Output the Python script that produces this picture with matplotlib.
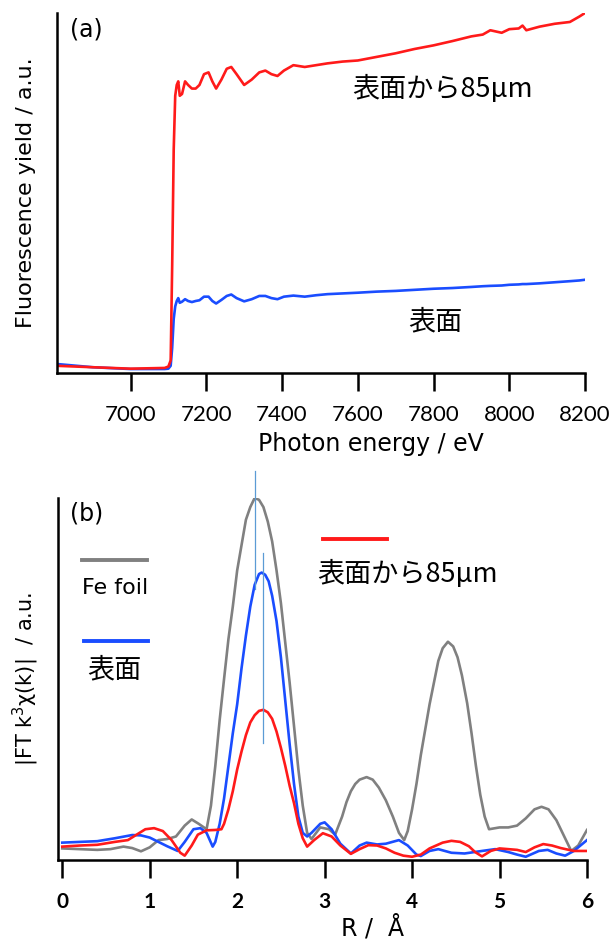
import matplotlib
matplotlib.use('Agg')
import matplotlib.pyplot as plt

plt.rcParams['font.family'] = ['DejaVu Sans', 'Noto Sans CJK JP']
JP = ['Noto Sans CJK JP', 'DejaVu Sans']
TICKFONT = ['Lato', 'DejaVu Sans']

# (a) XANES, fluorescence yield
energy = [6805, 6900, 7000, 7090, 7100, 7106, 7110, 7114, 7118, 7122,
          7126, 7130, 7136, 7144, 7152, 7162, 7172, 7182, 7194, 7206,
          7216, 7226, 7240, 7254, 7266, 7280, 7300, 7320, 7340, 7356,
          7372, 7388, 7405, 7430, 7460, 7490, 7520, 7560, 7600, 7650,
          7700, 7750, 7800, 7850, 7900, 7930, 7950, 7980, 8000, 8025,
          8035, 8045, 8080, 8120, 8160, 8185, 8200]
fy_85um = [0.020, 0.016, 0.012, 0.014, 0.018, 0.035, 0.30, 0.62, 0.77, 0.80,
           0.81, 0.77, 0.775, 0.81, 0.80, 0.79, 0.79, 0.80, 0.83, 0.835,
           0.81, 0.79, 0.815, 0.845, 0.85, 0.83, 0.80, 0.815, 0.835, 0.84,
           0.83, 0.825, 0.84, 0.855, 0.85, 0.855, 0.86, 0.865, 0.868, 0.878,
           0.888, 0.90, 0.91, 0.922, 0.935, 0.94, 0.952, 0.945, 0.955, 0.957,
           0.965, 0.952, 0.962, 0.97, 0.975, 0.99, 1.0]
fy_surface = [0.025, 0.016, 0.011, 0.011, 0.012, 0.02, 0.07, 0.15, 0.185, 0.200,
              0.208, 0.195, 0.198, 0.205, 0.200, 0.197, 0.200, 0.202, 0.212, 0.212,
              0.200, 0.193, 0.203, 0.214, 0.218, 0.208, 0.199, 0.205, 0.214, 0.214,
              0.208, 0.205, 0.212, 0.215, 0.212, 0.216, 0.219, 0.221, 0.223, 0.226,
              0.228, 0.231, 0.234, 0.236, 0.239, 0.241, 0.242, 0.243, 0.245, 0.246,
              0.247, 0.247, 0.249, 0.252, 0.255, 0.257, 0.259]
energy_ticks = [7000, 7200, 7400, 7600, 7800, 8000, 8200]

# (b) Fourier transforms
r_fe = [0.0, 0.2, 0.4, 0.55, 0.7, 0.8, 0.9, 1.0, 1.1, 1.2, 1.3, 1.4, 1.48, 1.56,
        1.65, 1.70, 1.75, 1.80, 1.85, 1.90, 1.95, 2.00, 2.05, 2.10, 2.15, 2.20,
        2.25, 2.30, 2.35, 2.40, 2.45, 2.50, 2.55, 2.60, 2.65, 2.70, 2.75, 2.80,
        2.85, 2.95, 3.05, 3.12, 3.2, 3.25, 3.3, 3.35, 3.4, 3.48, 3.55, 3.62,
        3.7, 3.78, 3.85, 3.91, 3.95, 4.0, 4.05, 4.1, 4.15, 4.2, 4.25, 4.3, 4.35,
        4.41, 4.47, 4.52, 4.57, 4.63, 4.68, 4.73, 4.78, 4.83, 4.88, 5.0, 5.1,
        5.2, 5.3, 5.4, 5.48, 5.56, 5.65, 5.75, 5.82, 5.9, 6.0]
ft_fe = [0.032, 0.030, 0.028, 0.030, 0.037, 0.033, 0.024, 0.035, 0.055, 0.058,
         0.065, 0.095, 0.112, 0.100, 0.085, 0.15, 0.26, 0.387, 0.50, 0.61, 0.70,
         0.80, 0.87, 0.94, 0.975, 1.0, 0.995, 0.975, 0.935, 0.88, 0.80, 0.71,
         0.60, 0.49, 0.37, 0.25, 0.15, 0.075, 0.058, 0.090, 0.085, 0.070, 0.12,
         0.16, 0.19, 0.21, 0.222, 0.229, 0.222, 0.20, 0.165, 0.12, 0.075, 0.055,
         0.08, 0.14, 0.21, 0.29, 0.36, 0.43, 0.49, 0.55, 0.585, 0.603, 0.59,
         0.56, 0.51, 0.433, 0.35, 0.26, 0.18, 0.12, 0.085, 0.090, 0.090, 0.095,
         0.115, 0.14, 0.147, 0.140, 0.11, 0.06, 0.025, 0.040, 0.083]

r_surf = [0.0, 0.2, 0.4, 0.6, 0.8, 0.9, 1.0, 1.1, 1.2, 1.32, 1.4, 1.5, 1.58, 1.65,
          1.72, 1.75, 1.8, 1.85, 1.9, 1.95, 2.0, 2.05, 2.1, 2.15, 2.2, 2.25, 2.28,
          2.32, 2.36, 2.4, 2.45, 2.5, 2.55, 2.6, 2.65, 2.7, 2.75, 2.8, 2.85, 2.95,
          3.0, 3.08, 3.18, 3.3, 3.4, 3.48, 3.6, 3.7, 3.85, 3.95, 4.05, 4.1, 4.2,
          4.3, 4.45, 4.6, 4.8, 4.95, 5.1, 5.2, 5.3, 5.45, 5.55, 5.65, 5.75, 5.85,
          6.0]
ft_surf = [0.048, 0.050, 0.052, 0.060, 0.069, 0.068, 0.062, 0.050, 0.038, 0.025,
           0.050, 0.085, 0.088, 0.075, 0.037, 0.05, 0.10, 0.17, 0.26, 0.35, 0.43,
           0.53, 0.62, 0.70, 0.76, 0.79, 0.794, 0.788, 0.77, 0.73, 0.66, 0.56,
           0.44, 0.32, 0.21, 0.12, 0.075, 0.065, 0.075, 0.10, 0.104, 0.085, 0.045,
           0.018, 0.040, 0.048, 0.043, 0.045, 0.055, 0.040, 0.015, 0.011, 0.025,
           0.030, 0.020, 0.018, 0.025, 0.030, 0.022, 0.015, 0.009, 0.025, 0.028,
           0.018, 0.012, 0.025, 0.055]

r_85 = [0.0, 0.2, 0.4, 0.6, 0.75, 0.85, 0.95, 1.05, 1.15, 1.25, 1.35, 1.4, 1.48,
        1.55, 1.65, 1.75, 1.82, 1.85, 1.9, 1.95, 2.0, 2.05, 2.1, 2.15, 2.2, 2.25,
        2.3, 2.35, 2.4, 2.45, 2.5, 2.55, 2.6, 2.65, 2.7, 2.75, 2.8, 2.88, 2.98,
        3.08, 3.18, 3.3, 3.4, 3.5, 3.6, 3.7, 3.8, 3.9, 4.0, 4.1, 4.2, 4.35, 4.45,
        4.55, 4.65, 4.72, 4.8, 4.9, 5.0, 5.1, 5.2, 5.3, 5.4, 5.5, 5.6, 5.7, 5.85,
        6.0]
ft_85 = [0.037, 0.040, 0.042, 0.050, 0.055, 0.070, 0.085, 0.088, 0.080, 0.055,
         0.020, 0.012, 0.040, 0.070, 0.082, 0.083, 0.085, 0.10, 0.14, 0.19, 0.25,
         0.30, 0.345, 0.38, 0.40, 0.412, 0.415, 0.408, 0.39, 0.355, 0.31, 0.26,
         0.205, 0.157, 0.10, 0.06, 0.037, 0.055, 0.074, 0.065, 0.040, 0.017,
         0.030, 0.041, 0.040, 0.032, 0.020, 0.012, 0.009, 0.015, 0.032, 0.048,
         0.053, 0.050, 0.038, 0.022, 0.010, 0.025, 0.032, 0.030, 0.028, 0.022,
         0.035, 0.044, 0.040, 0.033, 0.025, 0.025]
r_ticks = [0, 1, 2, 3, 4, 5, 6]

peak_fe = 2.2
peak_sample = 2.29

RED = '#ff1a1a'
BLUE = '#1a4dff'
GRAY = '#808080'

fig = plt.figure(figsize=(6.14, 9.40), dpi=100)
ax1 = fig.add_axes([0.0923, 0.6032, 0.8605, 0.383])
ax2 = fig.add_axes([0.095, 0.0851, 0.861, 0.3851])

for ax in (ax1, ax2):
    ax.spines['top'].set_visible(False)
    ax.spines['right'].set_visible(False)
    ax.spines['left'].set_linewidth(1.8)
    ax.spines['bottom'].set_linewidth(1.8)
    ax.set_yticks([])
    ax.tick_params(axis='x', direction='out', length=13, width=1.8, pad=10)

# panel a
ax1.plot(energy, fy_surface, color=BLUE, lw=1.9)
ax1.plot(energy, fy_85um, color=RED, lw=1.9)
ax1.set_xlim(6805, 8200)
ax1.set_ylim(0, 1.0)
ax1.set_xticks(energy_ticks, [str(t) for t in energy_ticks],
               fontsize=16, fontfamily=TICKFONT)
ax1.set_xlabel('Photon energy / eV', fontsize=17)
ax1.xaxis.set_label_coords(0.595, -0.165)
ax1.set_ylabel('Fluorescence yield / a.u.', fontsize=16)
ax1.yaxis.set_label_coords(-0.04, 0.5)
ax1.text(6840, 0.955, '(a)', fontsize=17, va='center')
ax1.text(7585, 0.79, '表面から85μm', fontsize=19.5, va='center', family=JP)
ax1.text(7733, 0.143, '表面', fontsize=19.5, va='center', family=JP)

# panel b
ax2.plot(r_fe, ft_fe, color=GRAY, lw=1.9)
ax2.plot(r_surf, ft_surf, color=BLUE, lw=1.9)
ax2.plot(r_85, ft_85, color=RED, lw=1.9)
ax2.plot([peak_fe, peak_fe], [0.75, 1.075], color='#5b9bd5', lw=0.9, clip_on=False)
ax2.plot([peak_sample, peak_sample], [0.323, 0.848], color='#5b9bd5', lw=0.9, clip_on=False)
ax2.set_xlim(-0.045, 6.0)
ax2.set_ylim(0, 1.0)
ax2.set_xticks(r_ticks, [str(t) for t in r_ticks],
               fontsize=15, fontfamily=TICKFONT, fontweight='bold')
ax2.set_xlabel('R /  Å', fontsize=17)
ax2.xaxis.set_label_coords(0.595, -0.152)
ax2.set_ylabel('|FT k$^3$χ(k)|  / a.u.', fontsize=15)
ax2.yaxis.set_label_coords(-0.032, 0.5)
ax2.text(0.09, 0.957, '(b)', fontsize=17, va='center')

# hand-made legend
ax2.plot([0.23, 0.97], [0.828, 0.828], color=GRAY, lw=2.8)
ax2.text(0.6, 0.751, 'Fe foil', fontsize=16, va='center', ha='center')
ax2.plot([0.25, 0.98], [0.604, 0.604], color=BLUE, lw=2.8)
ax2.text(0.6, 0.525, '表面', fontsize=19.5, va='center', ha='center', family=JP)
ax2.plot([2.98, 3.71], [0.887, 0.887], color=RED, lw=2.8)
ax2.text(2.92, 0.79, '表面から85μm', fontsize=19.5, va='center', family=JP)

fig.savefig('out.png', dpi=100)
